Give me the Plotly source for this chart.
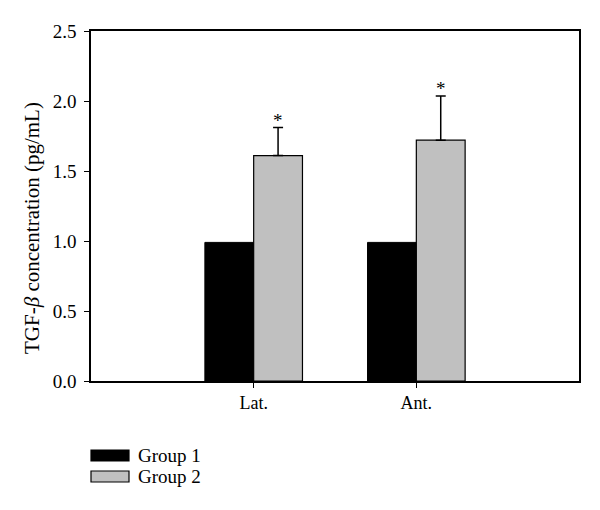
import plotly.graph_objects as go

categories = ["Lat.", "Ant."]
positions = [1, 2]
group1 = [0.99, 0.99]
group2 = [1.61, 1.72]
group2_err = [0.20, 0.315]
series_names = ["Group 1", "Group 2"]
y_ticks = [0.0, 0.5, 1.0, 1.5, 2.0, 2.5]
y_title = "TGF-<i>β</i> concentration (pg/mL)"

FONT = "Liberation Serif"

fig = go.Figure()
fig.add_trace(go.Bar(
    x=positions, y=group1, name=series_names[0],
    marker=dict(color="#000000", line=dict(color="#000000", width=1)),
))
fig.add_trace(go.Bar(
    x=positions, y=group2, name=series_names[1],
    marker=dict(color="#c0c0c0", line=dict(color="#000000", width=1.2)),
    error_y=dict(type="data", array=group2_err, symmetric=False,
                 arrayminus=[0, 0], color="#000000", thickness=1.5, width=5),
))

# significance asterisks above group 2 error bars
for p, v, e in zip(positions, group2, group2_err):
    fig.add_annotation(x=p + 0.15, y=v + e, text="*", showarrow=False,
                       yanchor="bottom", yshift=-5,
                       font=dict(family=FONT, size=19, color="#000"))

# legend drawn below the plot (page body has an 8px margin)
OFF = 8
L, T = 91 - OFF, 31 - OFF
W, H = 488, 350  # plot area size in px
def px_x(px):
    return (px - 91) / W
def px_y(py):
    return (381 - py) / H

legend_items = [(series_names[0], "#000000", 450, 461),
                (series_names[1], "#c0c0c0", 471, 482)]
for name, col, y0, y1 in legend_items:
    fig.add_shape(type="rect", xref="paper", yref="paper",
                  x0=px_x(91), x1=px_x(129), y0=px_y(y0), y1=px_y(y1),
                  fillcolor=col, line=dict(color="#000", width=1.2))
    fig.add_annotation(xref="paper", yref="paper", x=px_x(136),
                       y=px_y((y0 + y1) / 2), text=name, showarrow=False,
                       xanchor="left", yanchor="middle",
                       font=dict(family=FONT, size=19, color="#000"))

# y-axis title
fig.add_annotation(xref="paper", yref="paper", x=px_x(32), y=px_y(228),
                   text=y_title, textangle=-90, showarrow=False,
                   xanchor="center", yanchor="middle",
                   font=dict(family=FONT, size=21, color="#000"))

fig.update_layout(
    width=592, height=502,
    margin=dict(l=L, r=21, t=T, b=129),
    barmode="group", bargap=0.4, bargroupgap=0,
    showlegend=False,
    plot_bgcolor="white", paper_bgcolor="white",
    font=dict(family=FONT, size=18, color="#000"),
)
fig.update_xaxes(
    range=[0, 3], tickvals=positions, ticktext=categories,
    ticks="outside", ticklen=5, tickwidth=1.2, tickcolor="#000",
    showline=True, linecolor="#000", linewidth=1.5, mirror=True,
    showgrid=False, zeroline=False, tickfont=dict(size=18),
)
fig.update_yaxes(
    range=[0, 2.5], tickvals=y_ticks, tickformat=".1f",
    ticks="outside", ticklen=5, tickwidth=1.2, tickcolor="#000",
    showline=True, linecolor="#000", linewidth=1.5, mirror=True,
    showgrid=False, zeroline=False, tickfont=dict(size=19),
    ticklabelstandoff=4,
)

fig.write_html("out.html")
